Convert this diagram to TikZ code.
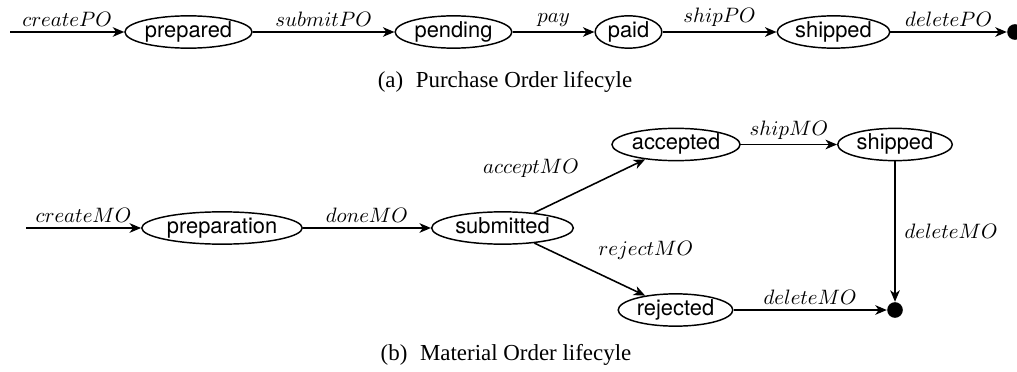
\documentclass[tikz,border=0pt]{standalone}
\usepackage{fontspec}
\setsansfont{TeX Gyre Heros}
\newfontfamily\capfont{Liberation Serif}
\usetikzlibrary{arrows.meta,shapes.geometric}
\begin{document}
\begin{tikzpicture}[x=0.48pt, y=-0.48pt,
  state/.style={draw, ellipse, line width=0.7pt, font=\sffamily\fontsize{10.5}{12}\selectfont, inner sep=0pt,
    text height=7pt, text depth=2pt, minimum height=15.5pt},
  trans/.style={line width=0.75pt, -{Stealth[length=5.5pt,width=4.6pt,inset=1.6pt]}},
  lab/.style={inner sep=2.2pt},
  final/.style={circle, fill, inner sep=0pt, minimum size=7.5pt},
  capt/.style={font=\capfont\fontsize{11}{13}\selectfont, inner sep=0pt}
]
\useasboundingbox (0,0) rectangle (1017,372);
% (a) Purchase Order
\coordinate (ia) at (10,32);
\node[state, minimum width=61pt] (prep) at (188.5,32) {prepared};
\node[state, minimum width=56pt] (pend) at (453.5,32) {pending};
\node[state, minimum width=32pt] (paid) at (628.5,32) {paid};
\node[state, minimum width=54pt] (shipa) at (833.5,32) {shipped};
\node[final] (enda) at (1015,32) {};
\draw[trans] (ia) -- node[lab,above]{$createPO$} (prep);
\draw[trans] (prep) -- node[lab,above]{$submitPO$} (pend);
\draw[trans] (pend) -- node[lab,above]{$pay$} (paid);
\draw[trans] (paid) -- node[lab,above]{$shipPO$} (shipa);
\draw[trans] (shipa) -- node[lab,above]{$deletePO$} (enda);
\node[capt] (capa) at (505,82) {(a)\hspace{0.55em}Purchase Order lifecyle};
% (b) Material Order
\coordinate (ib) at (26,228);
\node[state, minimum width=77pt] (prepn) at (222,228) {preparation};
\node[state, minimum width=68pt] (subm) at (502.5,228) {submitted};
\node[state, minimum width=61.5pt] (acc) at (676,144.5) {accepted};
\node[state, minimum width=55pt] (shipb) at (895,144.5) {shipped};
\node[state, minimum width=55pt] (rej) at (675.5,310) {rejected};
\node[final] (endb) at (895,310) {};
\draw[trans] (ib) -- node[lab,above]{$createMO$} (prepn);
\draw[trans] (prepn) -- node[lab,above]{$doneMO$} (subm);
\draw[trans] (subm) -- node[lab,above left,xshift=-2.6pt,yshift=1.6pt]{$acceptMO$} (acc);
\draw[trans] (subm) -- node[lab,above right,xshift=1.6pt,yshift=2.1pt]{$rejectMO$} (rej);
\draw[trans] (acc) -- node[lab,above]{$shipMO$} (shipb);
\draw[trans] (shipb) -- node[lab,right,xshift=2pt]{$deleteMO$} (endb);
\draw[trans] (rej) -- node[lab,above]{$deleteMO$} (endb);
\node[capt] (capb) at (506,355) {(b)\hspace{0.55em}Material Order lifecyle};
\end{tikzpicture}
\end{document}
